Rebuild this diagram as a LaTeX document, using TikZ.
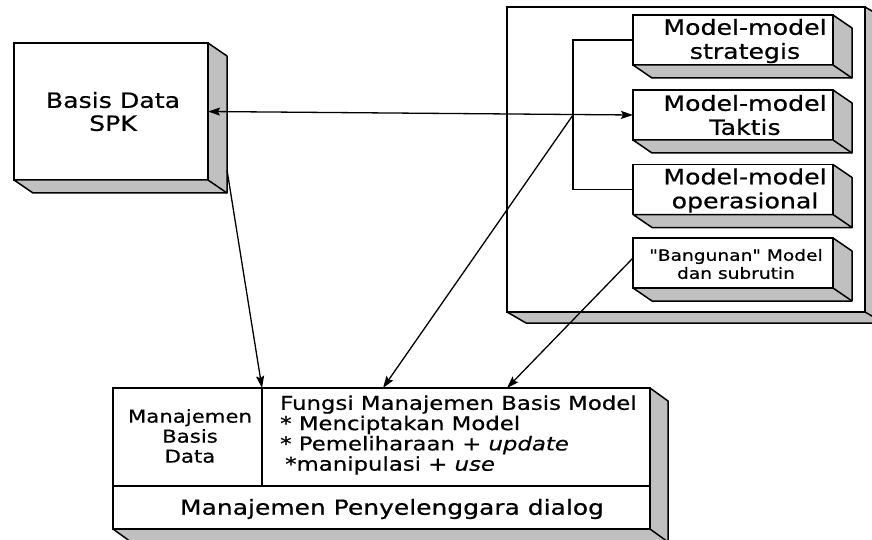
\documentclass[tikz,border=0pt]{standalone}
\usepackage{fontspec}
\setmainfont[FakeStretch=1.2, FakeBold=0.6]{DejaVu Sans}
% same face without the TeX quote mapping, for straight quotation marks
\newfontfamily\plainquotes[FakeStretch=1.2, FakeBold=0.6]{DejaVu Sans}
\usetikzlibrary{arrows.meta,calc}
\definecolor{facegray}{RGB}{192,192,192}

% grey side and bottom faces that give a box its depth
\newcommand\extrude[3]{%
  \filldraw[face] (#1.north east) -- ++(#2,#3)
    -- ($(#1.south east)+(#2,#3)$) -- ($(#1.south west)+(#2,#3)$)
    -- (#1.south west) -- (#1.south east) -- cycle;
  \draw[face] (#1.south east) -- ++(#2,#3);
}

\tikzset{
  face/.style={fill=facegray, draw=black, line width=1.5pt, line join=round},
  slab/.style={draw=black, fill=white, line width=1.5pt, inner sep=0pt,
    outer sep=0pt, anchor=north west},
  lbl/.style={inner sep=0pt, align=center, text=black},
  conn/.style={draw=black, line width=1.3pt},
  tip/.tip={Stealth[length=12pt,width=8pt,inset=2pt]},
  arr/.style={conn, -tip},
  biarr/.style={conn, tip-tip},
}

\begin{document}
\begin{tikzpicture}[x=1pt, y=-1pt]
\useasboundingbox (0,0) rectangle (872,540);
\clip (0,0) rectangle (872,540);

% database box
\node[slab, minimum width=194pt, minimum height=137pt] (bd) at (14,43) {};
\extrude{bd}{19}{13}
\node[lbl, font=\fontsize{21}{23}\selectfont] at ([xshift=2pt]bd.center) {Basis Data\\SPK};

% model base container
\node[slab, minimum width=358pt, minimum height=305pt] (cont) at (507,7) {};
\extrude{cont}{19}{11}

% model boxes
\node[slab, minimum width=200pt, minimum height=50pt] (st) at (633,15) {};
\node[slab, minimum width=200pt, minimum height=50pt] (tk) at (633,90) {};
\node[slab, minimum width=200pt, minimum height=50pt] (op) at (633,164.5) {};
\node[slab, minimum width=200pt, minimum height=50pt] (bg) at (633,238) {};
\extrude{st}{19}{13}
\extrude{tk}{19}{13}
\extrude{op}{19}{13}
\extrude{bg}{19}{13}
\node[lbl, font=\fontsize{21}{24}\selectfont] at ([xshift=12pt,yshift=-1pt]st.center) {Model-model\\strategis};
\node[lbl, font=\fontsize{21}{24}\selectfont] at ([xshift=12pt]tk.center) {Model-model\\Taktis};
\node[lbl, font=\fontsize{21}{24}\selectfont] at ([xshift=12pt,yshift=-1pt]op.center) {Model-model\\operasional};
\node[lbl, font=\plainquotes\fontsize{15.5}{18}\selectfont] at ([xshift=3pt,yshift=-1pt]bg.center) {"Bangunan" Model\\dan subrutin};

% management box
\node[slab, minimum width=537pt, minimum height=141pt] (bb) at (113,388) {};
\extrude{bb}{18}{13}
\coordinate (cellsplit) at ($(bb.north west)+(149,0)$);
\coordinate (rowsplit) at ($(bb.north west)+(0,98)$);
\draw[conn] (cellsplit) -- (cellsplit |- rowsplit);
\draw[conn] (rowsplit) -- (rowsplit -| bb.east);
\node[lbl, font=\fontsize{17.7}{20}\selectfont] at (190,436) {Manajemen\\Basis\\Data};
\node[lbl, anchor=west, align=left, font=\fontsize{19}{20.3}\selectfont] at (280,435)
  {Fungsi Manajemen Basis Model\\* Menciptakan Model\\* Pemeliharaan + \textit{update}\\\hspace*{5pt}*manipulasi + \textit{use}};
\node[lbl, font=\fontsize{20.8}{24}\selectfont] at (392,509) {Manajemen Penyelenggara dialog};

% connectors
\draw[conn] (st.west) -- ++(-60,0) coordinate (brtop) |- (op.west);
\draw[biarr] (bd.east) -- (tk.west);
\coordinate (jn) at (brtop |- tk.west);
\coordinate (bdout) at ($(bd.south east)+(19,-10)$);
\coordinate (in1) at ($(bb.north west)+(149,0)$);
\coordinate (in2) at ($(bb.north west)+(270,0)$);
\coordinate (in3) at ($(bb.north west)+(394,0)$);
\draw[arr] (bdout) -- (in1);
\draw[arr] (jn) -- (in2);
\draw[arr] ([yshift=5pt]bg.west) -- (in3);
\end{tikzpicture}
\end{document}
